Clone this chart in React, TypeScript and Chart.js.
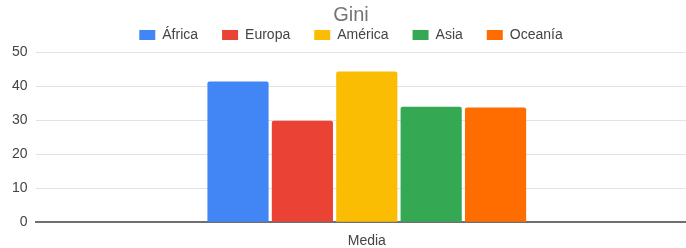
import React, { useEffect, useRef } from "react";
import { Chart, registerables } from "chart.js";

Chart.register(...registerables);

const categories = ["Media"];
const seriesNames = ["África", "Europa", "América", "Asia", "Oceanía"];
const seriesValues = [[41.3], [29.8], [44.3], [33.9], [33.7]];
const seriesColors = ["#4285F4", "#EA4335", "#FBBC04", "#34A853", "#FF6D01"];
const yTicks = [0, 10, 20, 30, 40, 50];

const FONT = "'Liberation Sans', Arial, sans-serif";

export default function App() {
  const ref = useRef<HTMLCanvasElement | null>(null);
  useEffect(() => {
    if (!ref.current) return;
    const chart = new Chart(ref.current, {
      type: "bar",
      data: {
        labels: categories,
        datasets: seriesNames.map((name, i) => ({
          label: name,
          data: seriesValues[i],
          backgroundColor: seriesColors[i],
          borderRadius: 2,
          borderSkipped: "bottom",
          categoryPercentage: 0.486,
          barPercentage: 0.95,
        })),
      },
      options: {
        animation: false,
        responsive: true,
        maintainAspectRatio: false,
        layout: { padding: { left: 4, right: 4, top: 0, bottom: -14 } },
        plugins: {
          title: {
            display: true,
            text: "Gini",
            color: "#757575",
            font: { family: FONT, size: 20, weight: "normal" },
            padding: { top: 3, bottom: -23 },
          },
          legend: {
            position: "top",
            labels: {
              boxWidth: 16,
              boxHeight: 10,
              padding: 24,
              color: "#444444",
              font: { family: FONT, size: 14 },
            },
          },
          tooltip: { enabled: false },
        },
        scales: {
          x: {
            grid: { display: false, drawTicks: false },
            border: { display: true, color: "#6f6f6f", width: 2 },
            ticks: {
              color: "#444444",
              padding: 11,
              font: { family: FONT, size: 14 },
            },
          },
          y: {
            min: 0,
            max: 50,
            afterBuildTicks: (axis: any) => {
              axis.ticks = yTicks.map((v) => ({ value: v }));
            },
            grid: { color: "#e2e2e2", drawTicks: false },
            border: { display: false },
            ticks: {
              color: "#444444",
              padding: 8,
              font: { family: FONT, size: 14 },
            },
          },
        },
      },
    });
    return () => chart.destroy();
  }, []);
  return (
    <div
      style={{
        position: "fixed",
        left: 0,
        top: 0,
        width: 686,
        height: 248,
        overflow: "hidden",
        background: "#fff",
      }}
    >
      <div style={{ position: "relative", width: 702, height: 247 }}>
        <canvas ref={ref} />
      </div>
    </div>
  );
}
